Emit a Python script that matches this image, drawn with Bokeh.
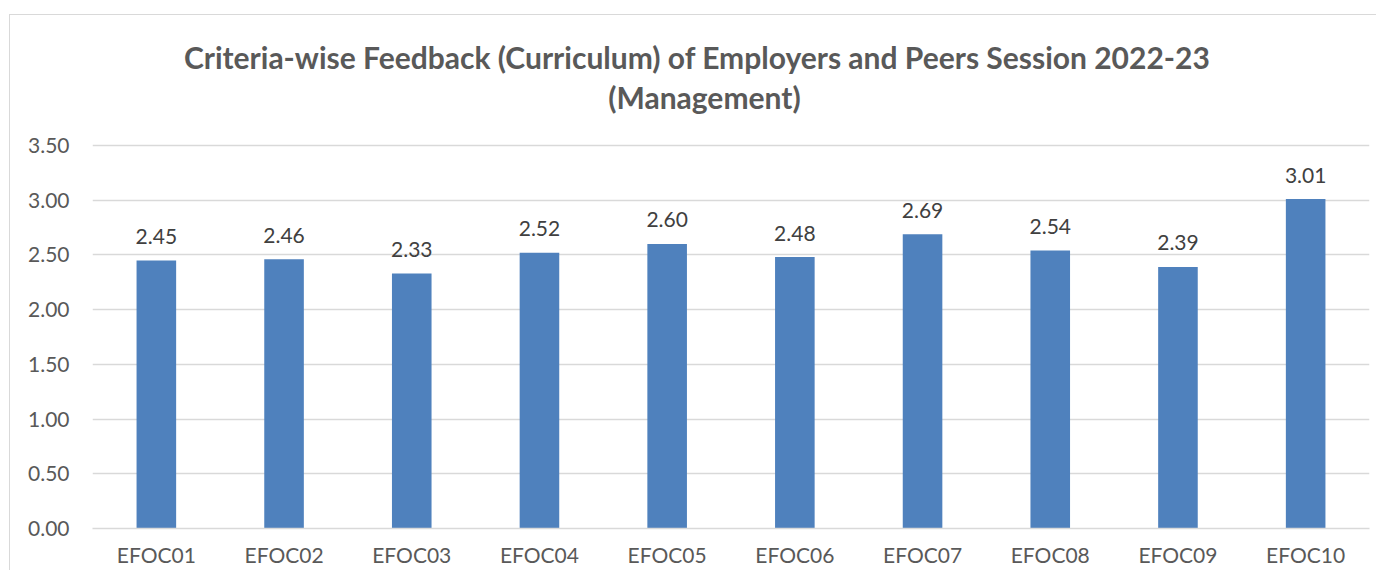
from bokeh.plotting import figure
from bokeh.models import FactorRange, Range1d, FixedTicker, NumeralTickFormatter, ColumnDataSource
from bokeh.core.properties import value
from bokeh.embed import file_html
from bokeh.resources import INLINE

categories = ["EFOC01", "EFOC02", "EFOC03", "EFOC04", "EFOC05",
              "EFOC06", "EFOC07", "EFOC08", "EFOC09", "EFOC10"]
scores = [2.45, 2.46, 2.33, 2.52, 2.60, 2.48, 2.69, 2.54, 2.39, 3.01]
y_ticks = [0.0, 0.5, 1.0, 1.5, 2.0, 2.5, 3.0, 3.5]
title_lines = ["Criteria-wise Feedback (Curriculum) of  Employers and Peers Session  2022-23",
               "(Management)"]

FONT = "Lato"
src = ColumnDataSource(dict(cat=categories, val=scores,
                            lab=["%.2f" % v for v in scores]))

p = figure(width=1367, height=556, output_backend="svg", toolbar_location=None,
           x_range=FactorRange(*categories, range_padding=0),
           y_range=Range1d(0, 4.688),
           min_border_left=82, min_border_right=8, min_border_top=0, min_border_bottom=43)
p.margin = (14, 0, 0, 9)
p.styles = {"border-top": "1px solid #d9d9d9", "border-left": "1px solid #d9d9d9"}

p.vbar(x="cat", top="val", width=0.31, source=src, color="#4F81BD", line_color=None)
p.text(x="cat", y="val", text="lab", source=src, text_align="center", text_baseline="middle",
       y_offset=-24, text_font=value(FONT), text_font_size="21px", text_color="#404040")

tsrc = ColumnDataSource(dict(x=[4.792, 4.792], y=[4.313, 3.939], t=title_lines))
p.text(x="x", y="y", text="t", source=tsrc, text_align="center", text_baseline="middle",
       text_font=value(FONT), text_font_style="bold", text_font_size="30px",
       text_color="#595959")

p.outline_line_color = None
p.xgrid.grid_line_color = None
p.ygrid.grid_line_color = "#D9D9D9"
p.ygrid.grid_line_width = 1.3

p.yaxis.ticker = FixedTicker(ticks=y_ticks)
p.ygrid.ticker = FixedTicker(ticks=y_ticks)
p.yaxis.formatter = NumeralTickFormatter(format="0.00")
p.yaxis.axis_line_color = None
p.yaxis.major_tick_line_color = None
p.yaxis.minor_tick_line_color = None
p.yaxis.major_tick_out = 0
p.yaxis.major_label_standoff = 23
p.yaxis.major_label_text_font = FONT
p.yaxis.major_label_text_font_size = "21px"
p.yaxis.major_label_text_color = "#595959"

p.xaxis.axis_line_color = "#D9D9D9"
p.xaxis.axis_line_width = 1.3
p.xaxis.major_tick_line_color = None
p.xaxis.major_tick_out = 0
p.xaxis.major_label_standoff = 13
p.xaxis.major_label_text_font = FONT
p.xaxis.major_label_text_font_size = "21px"
p.xaxis.major_label_text_color = "#595959"

open("out.html", "w").write(file_html(p, INLINE))
